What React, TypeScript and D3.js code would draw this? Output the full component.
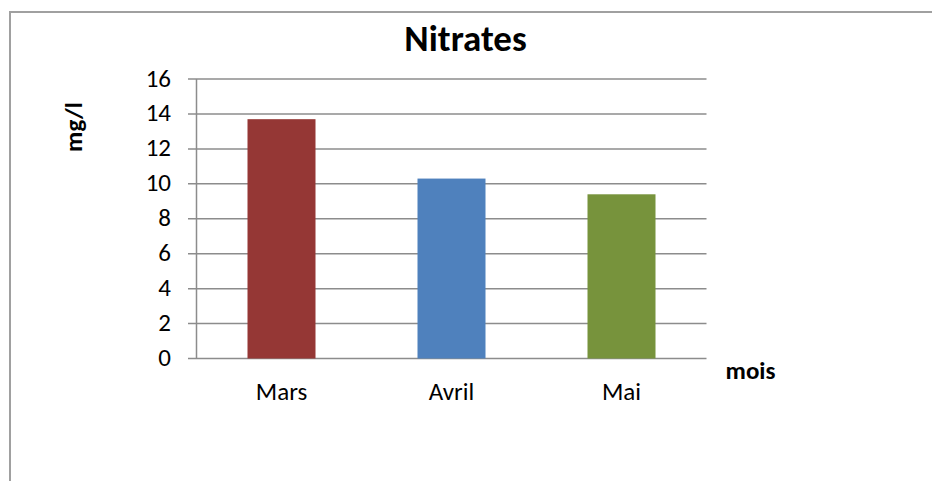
import React from "react";
import * as d3 from "d3";

const categories = ["Mars", "Avril", "Mai"];
const values = [13.7, 10.3, 9.4];
const colors = ["#953735", "#4F81BD", "#77933C"];
const yTicks = [0, 2, 4, 6, 8, 10, 12, 14, 16];
const title = "Nitrates";
const yLabel = "mg/l";
const xLabel = "mois";

export default function App() {
  const W = 932, H = 481;
  const left = 196.5, right = 706.5, top = 79, bottom = 358.5;
  const x = d3.scaleBand<string>().domain(categories).range([left, right]).paddingInner(0.6).paddingOuter(0.3);
  const y = d3.scaleLinear().domain([0, 16]).range([bottom, top]);
  const font = "Carlito, Calibri, Lato, 'Open Sans', sans-serif";
  const grid = "#8c8c8c";
  return (
    <svg width={W} height={H} style={{ position: "absolute", left: 0, top: 0, background: "#fff" }}>
      <path d={`M10,${H} L10,12 L${W},12`} fill="none" stroke="#a0a0a0" strokeWidth={2} />
      <text x={465.5} y={51} textAnchor="middle" fontFamily={font} fontWeight="bold" fontSize={37}>{title}</text>
      {yTicks.map((t) => (
        <g key={t}>
          <line x1={188} x2={right} y1={y(t)} y2={y(t)} stroke={grid} strokeWidth={1.5} />
          <text x={171} y={y(t) + 7.5} textAnchor="end" fontFamily={font} fontSize={25}>{t}</text>
        </g>
      ))}
      <line x1={left} x2={left} y1={top} y2={bottom} stroke={grid} strokeWidth={1.5} />
      {categories.map((c, i) => (
        <g key={c}>
          <rect x={x(c)} y={y(values[i])} width={x.bandwidth()} height={y(0) - y(values[i])} fill={colors[i]} />
          <text x={(x(c) ?? 0) + x.bandwidth() / 2} y={400} textAnchor="middle" fontFamily={font} fontSize={25}>{c}</text>
        </g>
      ))}
      <text transform="translate(82,127) rotate(-90)" textAnchor="middle" fontFamily={font} fontWeight="bold" fontSize={25}>{yLabel}</text>
      <text x={750.5} y={379} textAnchor="middle" fontFamily={font} fontWeight="bold" fontSize={25}>{xLabel}</text>
    </svg>
  );
}
